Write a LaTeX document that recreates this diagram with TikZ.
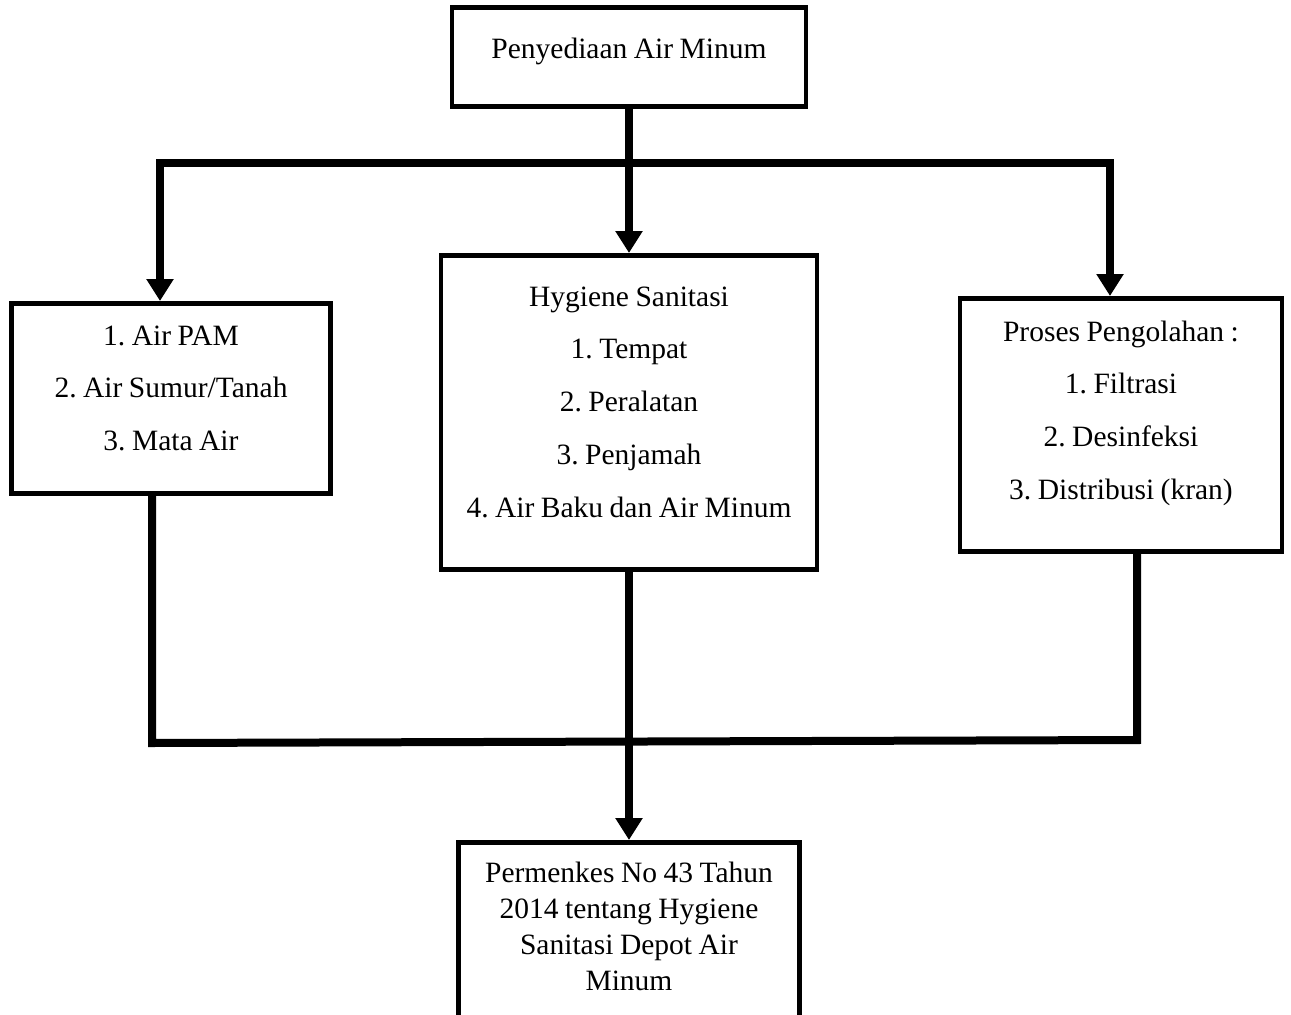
\documentclass[tikz,border=0pt]{standalone}
\usepackage{fontspec}
\setmainfont{Liberation Serif}
\usetikzlibrary{arrows.meta}
\frenchspacing
\newcommand\boxfont[1]{\fontsize{29.5}{#1}\selectfont}

\begin{document}
\begin{tikzpicture}[x=1pt,y=-1pt,>={Triangle[length=22pt,width=26pt]},line join=miter,
  box/.style={draw,line width=4.5pt,inner sep=0pt,align=center,anchor=north,font=\boxfont{52.7},
    execute at begin node={\spaceskip=6.5pt\relax}},
  wire/.style={line width=8pt,line cap=rect},
  conn/.style={line width=8pt,->}]
\useasboundingbox (0,0) rectangle (1291,1015);
\node[box,text width=354pt,text height=51pt,text depth=48pt] (top) at (629,5) {Penyediaan Air Minum};
\node[box,text width=319pt,text height=42pt,text depth=148pt] (src) at (171,301) {1. Air PAM\\2. Air Sumur/Tanah\\3. Mata Air};
\node[box,text width=376pt,text height=51pt,text depth=263pt] (hyg) at (629,253) {Hygiene Sanitasi\\1. Tempat\\2. Peralatan\\3. Penjamah\\4. Air Baku dan Air Minum};
\node[box,text width=322pt,text height=43pt,text depth=210pt] (proc) at (1121,296) {Proses Pengolahan :\\1. Filtrasi\\2. Desinfeksi\\3. Distribusi (kran)};
\node[box,text width=341pt,text height=40pt,text depth=190pt,font=\boxfont{36}] (perm) at (629,840) {Permenkes No 43 Tahun\\2014 tentang Hygiene\\Sanitasi Depot Air\\Minum};
\coordinate (busL) at (160,163);
\coordinate (busR) at (1110,163);
\coordinate (joinL) at (152,743);
\coordinate (joinR) at (1137,740);
\draw[conn] (top.south) -- (hyg.north);
\draw[wire] (busL) -- (busR);
\draw[conn] (busL) -- (busL |- src.north);
\draw[conn] (busR) -- (busR |- proc.north);
\draw[wire] (joinL |- src.south) -- (joinL) -- (joinR) -- (joinR |- proc.south);
\draw[conn] (hyg.south) -- (perm.north);
\end{tikzpicture}
\end{document}
